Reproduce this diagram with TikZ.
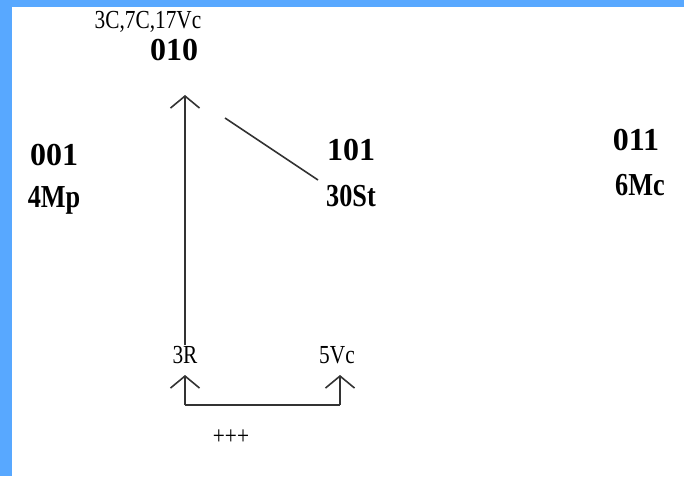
\documentclass[tikz,border=0pt]{standalone}
\usepackage{fontspec}
\setmainfont{Liberation Serif}
\newfontfamily\narrowserif{Liberation Serif}[FakeStretch=0.82]
\usetikzlibrary{arrows.meta}

\begin{document}
\begin{tikzpicture}[
  x=1pt, y=-1pt,
  every node/.style={inner sep=1pt, text=black},
  code/.style={font=\fontsize{32}{36}\selectfont\bfseries},
  word/.style={font=\narrowserif\fontsize{32}{36}\selectfont\bfseries},
  tag/.style={font=\narrowserif\fontsize{26}{30}\selectfont},
  link/.style={line width=1.6pt, black!80},
  arr/.style={link, -{Straight Barb[length=12pt, width=29pt, line width=1.6pt]}},
]
%-------------------------------------------------------------
\definecolor{edgeblue}{RGB}{88,168,255}

% frame
\fill[white] (0,0) rectangle (684,476);
\fill[edgeblue] (0,0) rectangle (684,7);
\fill[edgeblue] (0,0) rectangle (12,476);
%============================================================
\node[tag]  (top)  at (148,22)  {3C,7C,17Vc};
\node[code] (n010) at (174,50)  {010};
%============================================================
\node[code] (n001) at (54,155)  {001};
\node[word] (mp4)  at (54,200)  {4Mp};
%============================================================
\node[code] (n101) at (351,150) {101};
\node[word] (st30) at (351,196) {30St};
%============================================================
\node[code] (n011) at (636,140) {011};
\node[word] (mc6)  at (640,185) {6Mc};
%============================================================
\node[tag]  (r3)   at (185,355) {3R};
\node[tag]  (vc5)  at (337,355) {5Vc};
\node[tag]  (plus) at (231,437) {+++};
%============================================================
\coordinate (t010) at (185,95);
\coordinate (d1)   at (225,118);
\coordinate (d2)   at (318,180);
\coordinate (b3)   at (185,375);
\coordinate (b5)   at (340,375);

\draw[arr] (r3.north) -- (t010);
\draw[link] (d1) -- (d2);
\draw[arr] (185,405) -- (b3);
\draw[arr] (340,405) -- (b5);
\draw[link] (185,405) -- (340,405);

\end{tikzpicture}
\end{document}
